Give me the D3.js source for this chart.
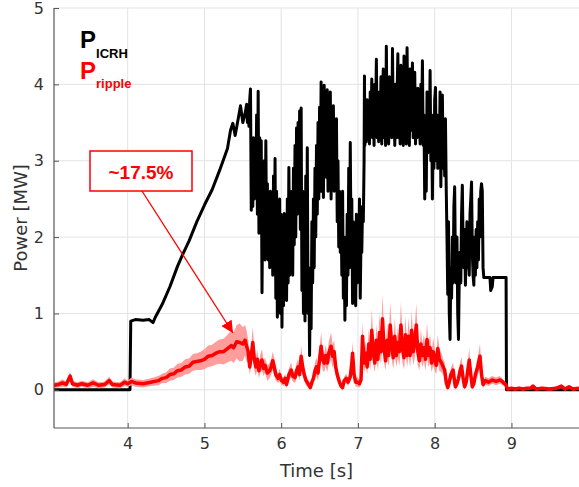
<!DOCTYPE html>
<html><head><meta charset="utf-8">
<script src="https://cdn.jsdelivr.net/npm/d3@7"></script>
<style>body{margin:0;background:#fff}svg{display:block}</style>
</head><body>
<svg id="c" width="579" height="487"></svg>
<script>
const xTicks = [4,5,6,7,8,9];
const yTicks = [0,1,2,3,4,5];
const xLabel = "Time [s]";
const yLabel = "Power [MW]";
const annotationText = "~17.5%";

const icrhT = [3.04,3.5,4.03,4.04,4.1,4.2,4.28,4.33,4.36,4.45,4.55,4.65,4.72,4.8,4.9,5.0,5.1,5.2,5.3,5.34,5.37,5.40,5.44,5.47,5.50,5.53,
5.55,5.56,5.57,5.58,5.59,5.60,5.61,5.62,5.63,5.64,5.65,5.66,5.67,5.68,5.69,5.70,5.71,5.72,5.73,5.74,5.75,5.76,5.77,5.78,5.79,
5.80,5.81,5.82,5.83,5.84,5.85,5.86,5.87,5.88,5.89,5.90,5.91,5.92,5.93,5.94,5.95,5.96,5.97,5.98,5.99,
6.00,6.01,6.02,6.03,6.04,6.05,6.06,6.07,6.08,6.09,6.10,6.11,6.12,6.13,6.14,6.15,6.16,6.17,6.18,6.19,
6.20,6.21,6.22,6.23,6.24,6.25,6.26,6.27,6.28,6.29,6.30,6.31,6.32,6.33,6.34,6.35,6.36,6.37,6.38,6.39,
6.40,6.41,6.42,6.43,6.44,6.45,6.46,6.47,6.48,6.49,6.50,6.51,6.52,6.53,6.54,6.55,6.56,6.57,6.58,6.59,
6.60,6.61,6.62,6.63,6.64,6.65,6.66,6.67,6.68,6.69,6.70,6.71,6.72,6.73,6.74,6.75,6.76,6.77,6.78,6.79,
6.80,6.81,6.82,6.83,6.84,6.85,6.86,6.87,6.88,6.89,6.90,6.91,6.92,6.93,6.94,6.95,6.96,6.97,6.98,6.99,
7.00,7.01,7.02,7.03,7.04,7.05,7.06,7.07,7.08,7.085,7.09,
7.10,7.11,7.12,7.13,7.14,7.15,7.16,7.17,7.18,7.19,7.20,7.21,7.22,7.23,7.24,7.25,7.26,7.27,7.28,7.29,
7.30,7.31,7.32,7.33,7.34,7.35,7.36,7.37,7.38,7.39,7.40,7.41,7.42,7.43,7.44,7.45,7.46,7.47,7.48,7.49,
7.50,7.51,7.52,7.53,7.54,7.55,7.56,7.57,7.58,7.59,7.60,7.61,7.62,7.63,7.64,7.65,7.66,7.67,7.68,7.69,
7.70,7.71,7.72,7.73,7.74,7.75,7.76,7.77,7.78,7.79,7.80,7.81,7.82,7.83,7.84,7.85,7.86,7.87,7.88,7.89,
7.90,7.91,7.92,7.93,7.94,7.95,7.96,7.97,7.98,7.99,8.00,8.01,8.02,8.03,8.04,8.05,8.06,8.07,8.08,8.09,
8.10,8.11,8.12,8.13,8.14,8.15,8.16,8.17,8.18,8.19,8.20,8.21,8.22,8.23,8.24,8.25,8.26,8.27,8.28,8.29,
8.30,8.31,8.32,8.33,8.34,8.35,8.36,8.37,8.38,8.39,8.40,8.41,8.42,8.43,8.44,8.45,8.46,8.47,8.48,8.49,
8.50,8.51,8.52,8.53,8.54,8.55,8.56,8.57,8.58,8.59,8.60,8.61,8.62,8.63,8.64,
8.72,8.73,8.75,8.76,8.93,8.935,9.88];
const icrhP = [0,0,0,0.9,0.92,0.91,0.92,0.88,0.95,1.12,1.35,1.62,1.78,1.95,2.2,2.42,2.62,2.88,3.16,3.4,3.49,3.33,3.55,3.72,3.5,3.62,
3.74,3.5,3.62,3.45,3.8,3.94,2.35,2.9,2.4,3.3,2.5,3.2,2.6,3.6,2.3,3.91,2.05,3.3,2.2,3.26,1.27,2.6,1.8,3.0,1.7,
3.26,1.9,2.7,1.7,2.5,1.6,2.6,1.9,2.4,1.5,2.8,1.7,3.03,1.2,2.6,0.95,2.2,1.3,2.5,1.0,
2.3,0.82,2.0,1.1,2.31,1.3,2.0,1.17,2.5,1.4,2.91,1.5,2.4,1.6,2.6,1.5,2.9,1.9,3.2,2.0,
3.43,2.3,3.5,2.35,3.65,2.1,3.69,1.3,2.6,1.0,2.5,0.9,2.8,1.2,3.17,1.0,1.6,0.45,1.5,0.8,
2.2,1.4,2.5,1.6,2.9,2.0,3.2,2.3,3.5,2.5,3.7,2.6,4.03,2.6,3.7,2.52,3.99,2.8,3.6,2.78,
3.93,2.6,3.5,2.7,3.9,2.5,3.4,2.8,3.72,2.6,3.4,2.7,3.55,2.2,3.0,1.87,2.6,1.8,2.4,1.5,
2.6,1.2,2.0,0.91,1.9,1.1,2.3,1.5,2.9,1.6,3.24,1.8,2.5,1.13,2.2,1.3,2.0,1.1,2.3,1.4,
2.1,1.5,2.5,1.2,2.0,1.8,2.4,2.2,3.0,4.11,3.2,
3.7,3.25,3.8,3.3,3.6,3.22,3.9,3.4,4.07,3.3,3.7,3.2,4.0,3.5,4.33,3.3,3.8,3.25,3.9,3.4,
4.1,3.22,3.75,4.2,3.3,3.9,3.2,4.5,3.4,3.8,3.22,4.1,3.5,3.9,3.3,4.47,3.4,3.8,3.2,4.0,
3.3,3.85,4.4,3.3,3.7,3.22,4.25,3.4,3.9,3.2,4.37,3.4,3.8,3.22,4.48,3.5,3.9,3.2,4.2,3.4,
3.8,4.28,3.3,3.9,4.16,3.22,3.8,3.3,3.95,3.4,3.7,3.22,4.0,3.5,4.31,3.2,3.6,2.5,3.4,2.6,
3.9,3.1,3.7,3.2,4.18,3.0,3.6,2.5,3.5,2.9,3.8,3.96,3.0,3.6,2.9,3.5,3.1,3.9,2.66,3.4,
3.86,2.9,3.5,2.8,3.55,2.65,2.0,1.25,2.2,1.0,0.66,1.6,1.2,2.0,1.4,2.4,2.66,1.6,1.4,2.0,
1.0,0.66,1.5,1.8,1.4,2.3,2.68,1.9,1.6,2.1,1.37,1.8,2.2,1.6,1.9,1.5,2.3,2.5,2.72,1.8,
1.5,1.37,2.0,1.5,2.1,1.6,2.2,1.7,2.5,2.0,2.6,2.7,2.6,1.6,1.47,
1.47,1.3,1.35,1.47,1.47,0,0];

const rippleT = [3.04,3.1,3.15,3.2,3.25,3.28,3.35,3.4,3.48,3.55,3.62,3.7,3.76,3.8,3.9,3.96,4.0,4.05,4.1,4.2,
4.3,4.4,4.45,4.5,4.55,4.6,4.65,4.7,4.75,4.8,4.85,4.9,4.95,5.0,5.05,5.1,5.15,5.2,5.25,5.3,
5.35,5.38,5.42,5.46,5.5,5.53,5.55,5.57,5.59,5.61,5.63,5.65,5.67,5.69,5.71,5.73,5.75,5.77,5.79,5.82,
5.85,5.87,5.89,5.91,5.93,5.96,5.98,6.0,6.03,6.05,6.07,6.1,6.13,6.15,6.18,6.2,6.22,6.24,6.26,6.28,
6.3,6.32,6.35,6.38,6.4,6.42,6.44,6.46,6.48,6.5,6.52,6.54,6.56,6.58,6.6,6.62,6.65,6.67,6.69,6.71,
6.73,6.76,6.78,6.8,6.82,6.85,6.87,6.9,6.92,6.93,6.95,6.97,7.0,7.02,7.04,7.06,7.08,7.1,7.12,7.14,
7.16,7.18,7.2,7.22,7.24,7.26,7.28,7.3,7.32,7.34,7.36,7.38,7.4,7.42,7.44,7.46,7.48,7.5,7.52,7.54,
7.56,7.58,7.6,7.62,7.64,7.66,7.68,7.7,7.72,7.74,7.76,7.78,7.8,7.82,7.84,7.86,7.88,7.9,7.92,7.94,
7.96,7.98,8.0,8.02,8.04,8.06,8.09,8.11,8.13,8.15,8.17,8.19,8.21,8.24,8.26,8.27,8.29,8.31,8.33,8.35,
8.37,8.39,8.41,8.43,8.45,8.47,8.49,8.51,8.53,8.56,8.59,8.61,8.63,8.66,8.7,8.75,8.8,8.85,8.89,8.93,
8.95,9.0,9.05,9.1,9.15,9.2,9.25,9.28,9.32,9.4,9.5,9.58,9.65,9.7,9.75,9.8,9.88];
const rippleP = [0.06,0.07,0.09,0.07,0.18,0.08,0.06,0.08,0.06,0.09,0.06,0.07,0.12,0.07,0.06,0.1,0.08,0.11,0.09,0.08,
0.1,0.12,0.15,0.16,0.2,0.21,0.25,0.26,0.3,0.31,0.36,0.37,0.38,0.4,0.44,0.45,0.48,0.5,0.5,0.54,
0.58,0.55,0.63,0.62,0.6,0.65,0.57,0.5,0.3,0.45,0.62,0.4,0.3,0.4,0.25,0.35,0.39,0.28,0.32,0.22,
0.25,0.3,0.38,0.3,0.2,0.15,0.2,0.13,0.1,0.15,0.07,0.2,0.26,0.18,0.16,0.25,0.3,0.2,0.44,0.3,
0.2,0.13,0.08,0.03,0.1,0.15,0.25,0.3,0.22,0.4,0.57,0.4,0.35,0.45,0.35,0.48,0.57,0.44,0.5,0.3,
0.2,0.1,0.05,0.03,0.12,0.15,0.1,0.17,0.35,0.48,0.2,0.1,0.1,0.08,0.13,0.7,0.35,0.48,0.3,0.6,
0.4,0.78,0.5,0.35,0.65,0.4,0.75,0.5,0.93,0.55,0.38,0.65,0.45,0.85,0.6,0.42,0.7,0.45,0.62,0.5,
0.85,0.55,0.42,0.72,0.45,0.7,0.45,0.78,0.5,0.62,0.85,0.5,0.38,0.6,0.45,0.55,0.4,0.66,0.45,0.55,
0.35,0.5,0.4,0.32,0.54,0.4,0.35,0.3,0.26,0.1,0.03,0.1,0.2,0.26,0.1,0.04,0.08,0.15,0.25,0.31,
0.15,0.04,0.1,0.25,0.39,0.2,0.04,0.08,0.2,0.3,0.44,0.2,0.07,0.12,0.1,0.13,0.11,0.13,0.1,0.06,
0.01,0.02,0.01,0.02,0.01,0.02,0.02,0.05,0.01,0.02,0.01,0.02,0.05,0.01,0.04,0.01,0.02];
const rippleSpread = [0.04,0.04,0.05,0.04,0.06,0.04,0.04,0.04,0.04,0.05,0.04,0.04,0.05,0.04,0.04,0.05,0.04,0.05,0.05,0.05,
0.05,0.06,0.06,0.07,0.08,0.08,0.09,0.09,0.1,0.1,0.11,0.11,0.12,0.13,0.14,0.14,0.15,0.16,0.17,0.18,
0.2,0.2,0.22,0.25,0.22,0.2,0.2,0.15,0.1,0.15,0.2,0.15,0.12,0.12,0.1,0.12,0.14,0.1,0.1,0.1,
0.1,0.1,0.12,0.12,0.08,0.06,0.08,0.06,0.05,0.06,0.05,0.08,0.1,0.07,0.07,0.1,0.1,0.08,0.14,0.1,
0.08,0.07,0.05,0.04,0.05,0.07,0.1,0.12,0.1,0.14,0.18,0.14,0.12,0.14,0.12,0.15,0.18,0.15,0.15,0.1,
0.08,0.05,0.04,0.04,0.05,0.06,0.05,0.07,0.12,0.15,0.08,0.06,0.06,0.05,0.06,0.2,0.12,0.15,0.1,0.2,
0.15,0.28,0.18,0.12,0.22,0.15,0.25,0.18,0.32,0.2,0.12,0.22,0.15,0.3,0.2,0.15,0.25,0.15,0.2,0.18,
0.3,0.2,0.15,0.25,0.15,0.25,0.15,0.27,0.18,0.2,0.28,0.18,0.12,0.2,0.15,0.18,0.15,0.22,0.15,0.18,
0.12,0.18,0.15,0.12,0.18,0.15,0.12,0.1,0.1,0.06,0.04,0.06,0.08,0.1,0.06,0.04,0.05,0.07,0.1,0.12,
0.07,0.04,0.06,0.1,0.15,0.08,0.04,0.05,0.08,0.12,0.16,0.1,0.05,0.05,0.05,0.05,0.05,0.05,0.04,0.03,
0.02,0.02,0.02,0.02,0.02,0.02,0.02,0.02,0.02,0.02,0.02,0.02,0.02,0.02,0.02,0.02,0.02];

const svg = d3.select("#c");
const L = 54, R = 579, T = 8, B = 428;
const x = d3.scaleLinear().domain([3.04, 9.88]).range([L, R]);
const y = d3.scaleLinear().domain([-0.5, 5]).range([B, T]);

const defs = svg.append("defs");
defs.append("clipPath").attr("id","clip")
  .append("rect").attr("x",L).attr("y",0).attr("width",R-L).attr("height",B);

// grid
const grid = svg.append("g");
grid.selectAll(".gx").data(xTicks).join("line")
  .attr("x1",d=>x(d)).attr("x2",d=>x(d)).attr("y1",T).attr("y2",B)
  .attr("stroke","#e3e3e3").attr("stroke-width",1);
grid.selectAll(".gy").data(yTicks).join("line")
  .attr("x1",L).attr("x2",R).attr("y1",d=>y(d)).attr("y2",d=>y(d))
  .attr("stroke","#e3e3e3").attr("stroke-width",1);

const plot = svg.append("g").attr("clip-path","url(#clip)");

const icrh = icrhT.map((t,i)=>[t, icrhP[i]]);
plot.append("path").datum(icrh)
  .attr("d", d3.line().x(d=>x(d[0])).y(d=>y(d[1])))
  .attr("fill","none").attr("stroke","#000").attr("stroke-width",3).attr("stroke-linejoin","round");

const rip = rippleT.map((t,i)=>({t, v: rippleP[i], s: rippleSpread[i]}));
plot.append("path").datum(rip)
  .attr("d", d3.area().x(d=>x(d.t)).y0(d=>y(d.v - d.s)).y1(d=>y(d.v + d.s)))
  .attr("fill","#ff9d9d");
plot.append("path").datum(rip)
  .attr("d", d3.line().x(d=>x(d.t)).y(d=>y(d.v)))
  .attr("fill","none").attr("stroke","#ff0000").attr("stroke-width",3.5).attr("stroke-linejoin","round");

// axes
const xAxis = d3.axisBottom(x).tickValues(xTicks).tickSize(-5).tickPadding(10).tickFormat(d3.format("d"));
const yAxis = d3.axisLeft(y).tickValues(yTicks).tickSize(-5).tickPadding(10).tickFormat(d3.format("d"));
const gx = svg.append("g").attr("transform",`translate(0,${B})`).call(xAxis);
const gy = svg.append("g").attr("transform",`translate(${L},0)`).call(yAxis);
[gx,gy].forEach(g=>{
  g.select(".domain").attr("stroke","#555").attr("stroke-width",1.2);
  g.selectAll(".tick line").attr("stroke","#555");
  g.selectAll(".tick text").attr("fill","#333").style("font-family","DejaVu Sans").style("font-size","16px");
});
gx.select(".domain").attr("d",`M${L},0H${R}`);
gy.select(".domain").attr("d",`M0,${B}V${T}`);

svg.append("text").attr("x",(L+R)/2).attr("y",477).attr("text-anchor","middle")
  .attr("fill","#333").style("font-family","DejaVu Sans").style("font-size","18px").text(xLabel);
svg.append("text").attr("transform",`translate(27,${(T+B)/2}) rotate(-90)`).attr("text-anchor","middle")
  .attr("fill","#333").style("font-family","DejaVu Sans").style("font-size","18px").text(yLabel);

// legend
const lg = svg.append("g").style("font-family","Liberation Sans, Arial, sans-serif").style("font-weight","bold");
const t1 = lg.append("text").attr("x",80).attr("y",48).attr("fill","#000");
t1.append("tspan").style("font-size","24px").text("P");
t1.append("tspan").attr("dy",10).style("font-size","13px").text("ICRH");
const t2 = lg.append("text").attr("x",80).attr("y",79).attr("fill","#ff0000");
t2.append("tspan").style("font-size","24px").text("P");
t2.append("tspan").attr("dy",9).style("font-size","13px").text("ripple");

// annotation
const ann = svg.append("g");
defs.append("marker").attr("id","arr").attr("viewBox","0 0 10 10")
  .attr("refX",10).attr("refY",5).attr("markerWidth",12).attr("markerHeight",12)
  .attr("markerUnits","userSpaceOnUse").attr("orient","auto")
  .append("path").attr("d","M0,0L10,5L0,10z").attr("fill","#ff0000");
ann.append("line").attr("x1",142).attr("y1",191).attr("x2",233).attr("y2",333)
  .attr("stroke","#ff0000").attr("stroke-width",1.3).attr("marker-end","url(#arr)");
ann.append("rect").attr("x",90).attr("y",151).attr("width",102).attr("height",40)
  .attr("fill","#fff").attr("stroke","#ff0000").attr("stroke-width",1.5);
ann.append("text").attr("x",141).attr("y",179).attr("text-anchor","middle").attr("fill","#ff0000")
  .style("font-family","Liberation Sans, Arial, sans-serif").style("font-weight","bold").style("font-size","19px")
  .text(annotationText);
</script>
</body></html>
